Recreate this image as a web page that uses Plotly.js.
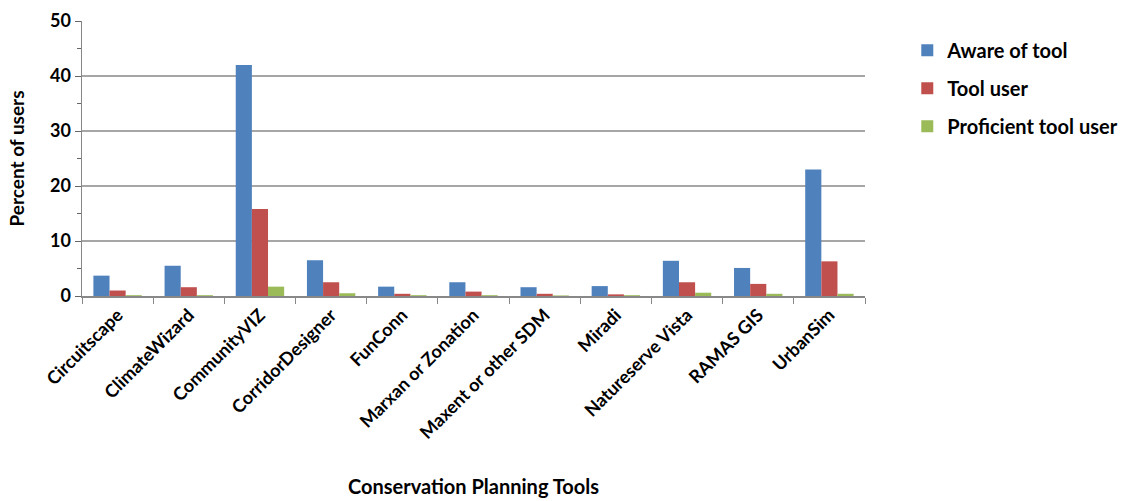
<!DOCTYPE html>
<html><head><meta charset="utf-8">
<script src="https://cdn.plot.ly/plotly-3.0.1.min.js"></script>
<style>html,body{margin:0;padding:0;background:#fff}</style>
</head><body>
<div id="chart" style="width:1135px;height:501px"></div>
<script>
const categories = ["Circuitscape","ClimateWizard","CommunityVIZ","CorridorDesigner","FunConn","Marxan or Zonation","Maxent or other SDM","Miradi","Natureserve Vista","RAMAS GIS","UrbanSim"];
const aware = [3.7, 5.5, 42, 6.5, 1.7, 2.5, 1.6, 1.8, 6.4, 5.1, 23];
const user = [1.0, 1.6, 15.8, 2.5, 0.4, 0.8, 0.4, 0.3, 2.5, 2.2, 6.3];
const proficient = [0.15, 0.15, 1.7, 0.5, 0.15, 0.15, 0.1, 0.15, 0.6, 0.4, 0.4];
const seriesNames = ["Aware of tool","Tool user","Proficient tool user"];
const colors = ["#4F81BD","#C0504D","#9BBB59"];
const font = "Lato, 'Open Sans', 'Liberation Sans', sans-serif";

const data = [aware, user, proficient].map((vals, i) => ({
  type: "bar", x: categories, y: vals, name: seriesNames[i],
  legendgroup: "g" + i,
  marker: {color: colors[i], line: {color: colors[i], width: 0}}
}));

const layout = {
  width: 1135, height: 501,
  margin: {l: 82, r: 252, t: 21, b: 205},
  paper_bgcolor: "#fff", plot_bgcolor: "#fff",
  barmode: "group", bargap: 0.32, bargroupgap: 0,
  font: {family: font, color: "#000"},
  xaxis: {
    type: "category", tickangle: -45, tickson: "boundaries",
    ticks: "outside", ticklen: 6, tickcolor: "#888",
    showline: true, linecolor: "#888", linewidth: 1.5,
    tickfont: {size: 18, family: font, weight: "bold"},
    title: {text: "Conservation Planning Tools", font: {size: 20, family: font, weight: "bold"}, standoff: 38},
    showgrid: false
  },
  yaxis: {
    range: [0, 50], dtick: 10, ticks: "outside", ticklen: 6, tickcolor: "#666",
    showline: true, linecolor: "#888", linewidth: 1.5,
    minor: {dtick: 5, ticks: "outside", ticklen: 4, tickcolor: "#666", showgrid: false},
    gridcolor: "#A6A6A6", gridwidth: 1.5,
    tickfont: {size: 18, family: font, weight: "bold"},
    title: {text: "Percent of users", font: {size: 19, family: font, weight: "bold"}, standoff: 20},
    zeroline: false
  },
  legend: {
    x: 1.054, y: 0.965, xanchor: "left", yanchor: "top",
    font: {size: 20, family: font, weight: "bold"},
    tracegroupgap: 9, itemwidth: 30, bgcolor: "rgba(0,0,0,0)"
  },
  showlegend: true
};

Plotly.newPlot("chart", data, layout, {displayModeBar: false, staticPlot: true});
</script>
</body></html>
